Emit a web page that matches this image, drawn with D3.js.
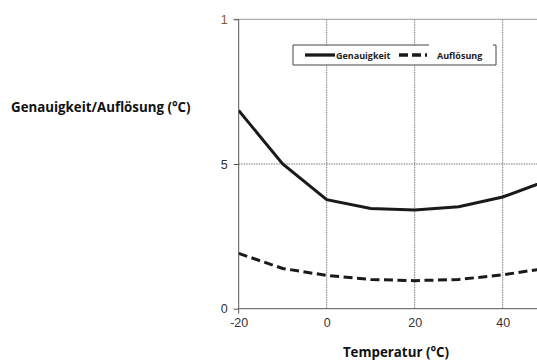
<!DOCTYPE html>
<html>
<head>
<meta charset="utf-8">
<script src="https://cdn.jsdelivr.net/npm/d3@7"></script>
<style>
  body { margin: 0; background: #fff; }
  svg { display: block; }
</style>
</head>
<body>
<svg width="537" height="360"></svg>
<script>
const temps = [-20, -10, 0, 10, 20, 30, 40, 50]
const genauigkeit = [6.85, 5.0, 3.77, 3.46, 3.41, 3.52, 3.86, 4.42]
const aufloesung = [1.91, 1.39, 1.15, 1.01, 0.97, 1.01, 1.17, 1.40]
const xTicks = [-20, 0, 20, 40]
const yTicks = [0, 5, 10]
const yTickLabels = ["0", "5", "1"]

const svg = d3.select("svg")
const width = +svg.attr("width")
const height = +svg.attr("height")

const margin = {top: 19.3, left: 238.7}
const xScale = d3.scaleLinear().domain([-20, 50]).range([margin.left, margin.left + 70 * 4.4])
const yScale = d3.scaleLinear().domain([0, 10]).range([308.7, 19.3])

const g = svg.append("g")

// grid
g.selectAll(".vgrid").data(xTicks.filter(d => d > -20))
  .enter().append("line")
  .attr("x1", d => xScale(d)).attr("x2", d => xScale(d))
  .attr("y1", yScale(10)).attr("y2", yScale(0))
  .attr("stroke", "#777").attr("stroke-width", 1)
  .attr("stroke-dasharray", "1.5,1")

g.append("line")
  .attr("x1", xScale(-20)).attr("x2", width)
  .attr("y1", yScale(5)).attr("y2", yScale(5))
  .attr("stroke", "#777").attr("stroke-dasharray", "1.5,1")

g.append("line")
  .attr("x1", xScale(-20) - 5).attr("x2", width)
  .attr("y1", yScale(10)).attr("y2", yScale(10))
  .attr("stroke", "#999")

// axes
const yAxis = d3.axisLeft(yScale).tickValues(yTicks)
  .tickFormat((d, i) => yTickLabels[i]).tickSize(5).tickPadding(6)
const yAxisG = g.append("g")
  .attr("transform", `translate(${xScale(-20)},0)`)
  .call(yAxis)
yAxisG.select(".domain").remove()
yAxisG.append("line")
  .attr("x1", 0).attr("x2", 0)
  .attr("y1", yScale(10)).attr("y2", yScale(0) + 5)
  .attr("stroke", "#555")
yAxisG.selectAll(".tick line").attr("stroke", "#555")
yAxisG.selectAll("text")
  .attr("font-family", "Liberation Sans, Arial, sans-serif")
  .attr("font-size", 12.5).attr("fill", "#333")
yAxisG.selectAll(".tick").filter(d => d === 10).select("text").attr("fill", "#8a5a2a")

const xAxis = d3.axisBottom(xScale).tickValues(xTicks)
  .tickFormat(d => String(d)).tickSize(0).tickPadding(9)
const xAxisG = g.append("g")
  .attr("transform", `translate(0,${yScale(0)})`)
  .call(xAxis)
xAxisG.select(".domain").remove()
xAxisG.append("line")
  .attr("x1", xScale(-20)).attr("x2", width)
  .attr("y1", 0).attr("y2", 0)
  .attr("stroke", "#555")
xAxisG.selectAll("text")
  .attr("font-family", "Liberation Sans, Arial, sans-serif")
  .attr("font-size", 12.5).attr("fill", "#333")

// lines
const line = d3.line().x(d => xScale(d[0])).y(d => yScale(d[1]))
const clip = svg.append("clipPath").attr("id", "clip")
  .append("rect").attr("x", xScale(-20)).attr("y", 0)
  .attr("width", width - xScale(-20)).attr("height", height)

g.append("path")
  .datum(temps.map((t, i) => [t, genauigkeit[i]]))
  .attr("d", line).attr("fill", "none")
  .attr("stroke", "#1a1a1a").attr("stroke-width", 3)
  .attr("clip-path", "url(#clip)")

g.append("path")
  .datum(temps.map((t, i) => [t, aufloesung[i]]))
  .attr("d", line).attr("fill", "none")
  .attr("stroke", "#1a1a1a").attr("stroke-width", 3)
  .attr("stroke-dasharray", "9,4.5")
  .attr("clip-path", "url(#clip)")

// legend
const lg = svg.append("g")
const lx0 = 293, lx1 = 496, ly0 = 45, ly1 = 65
lg.append("rect").attr("x", lx0).attr("y", ly0)
  .attr("width", lx1 - lx0).attr("height", ly1 - ly0).attr("fill", "#fff").attr("stroke", "none")
lg.append("path")
  .attr("d", `M${lx0},${ly0}V${ly1}H${lx1}V${ly0}H${lx1 - 3}M${lx0},${ly0}H429`)
  .attr("fill", "none").attr("stroke", "#444").attr("stroke-width", 1)
lg.append("line").attr("x1", 305).attr("x2", 335).attr("y1", 55).attr("y2", 55)
  .attr("stroke", "#1a1a1a").attr("stroke-width", 3.3)
lg.append("text").attr("x", 336).attr("y", 58.5).text("Genauigkeit")
  .attr("font-family", "Open Sans, sans-serif").attr("font-weight", "bold")
  .attr("font-size", 9).attr("fill", "#222")
lg.append("line").attr("x1", 399).attr("x2", 427).attr("y1", 55).attr("y2", 55)
  .attr("stroke", "#1a1a1a").attr("stroke-width", 3.3).attr("stroke-dasharray", "9,4")
lg.append("text").attr("x", 437).attr("y", 58.5).text("Auflösung")
  .attr("font-family", "Open Sans, sans-serif").attr("font-weight", "bold")
  .attr("font-size", 9).attr("fill", "#222")

// axis titles
svg.append("text").attr("x", 11).attr("y", 112)
  .text("Genauigkeit/Auflösung (°C)")
  .attr("font-family", "Open Sans, sans-serif").attr("font-weight", "bold")
  .attr("font-size", 13.3).attr("fill", "#111")

svg.append("text").attr("x", 396).attr("y", 356.5)
  .attr("text-anchor", "middle")
  .text("Temperatur (°C)")
  .attr("font-family", "Open Sans, sans-serif").attr("font-weight", "bold")
  .attr("font-size", 13.3).attr("fill", "#111")
</script>
</body>
</html>
